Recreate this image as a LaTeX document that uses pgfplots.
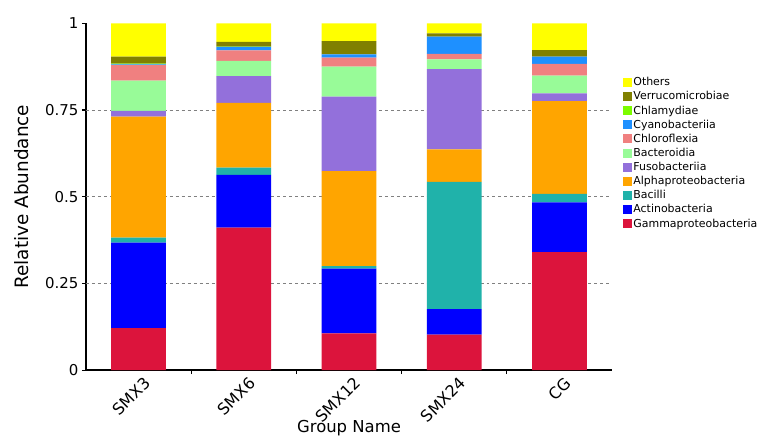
\documentclass[border=0pt]{standalone}
\usepackage{fontspec}
\setmainfont{DejaVu Sans}
\usepackage{pgfplots}
\usepackage{pgfplotstable}
\pgfplotsset{compat=1.18}

\definecolor{cGamma}{HTML}{DC143C}
\definecolor{cActino}{HTML}{0000FF}
\definecolor{cBacilli}{HTML}{20B2AA}
\definecolor{cAlpha}{HTML}{FFA500}
\definecolor{cFuso}{HTML}{9370DB}
\definecolor{cBacter}{HTML}{98FB98}
\definecolor{cChloro}{HTML}{F08080}
\definecolor{cCyano}{HTML}{1E90FF}
\definecolor{cChlam}{HTML}{7CFC00}
\definecolor{cVerruco}{HTML}{808000}
\definecolor{cOthers}{HTML}{FFFF00}

% relative abundance of the top classes per group (0 = SMX3 ... 4 = CG)
\pgfplotstableread{
grp Gamma Actino Bacilli Alpha Fuso Bacter Chloro Cyano Chlam Verruco Others
0 0.121 0.247 0.014 0.349 0.017 0.087 0.045 0.002 0.002 0.020 0.096
1 0.411 0.152 0.021 0.187 0.077 0.044 0.030 0.010 0.001 0.014 0.053
2 0.106 0.187 0.007 0.274 0.215 0.086 0.026 0.010 0.000 0.038 0.051
3 0.102 0.074 0.367 0.094 0.231 0.028 0.016 0.050 0.000 0.009 0.029
4 0.340 0.144 0.024 0.268 0.022 0.051 0.034 0.021 0.000 0.019 0.077
}\abund

\begin{document}
\begin{tikzpicture}
\path[use as bounding box] (-86bp,-67bp) rectangle (675bp,370.1bp);
\begin{axis}[
  scale only axis,
  width=526bp, height=346.7bp,
  ybar stacked, bar width=0.52,
  xmin=-0.5, xmax=4.5, ymin=0, ymax=1,
  axis x line*=bottom, axis y line*=left,
  axis line style={line width=1.6pt, black},
  xtick={0,...,4},
  xticklabels={SMX3,SMX6,SMX12,SMX24,CG},
  major x tick style={draw=none},
  minor xtick={0.5,1.5,2.5,3.5},
  minor x tick style={black, line width=1.2pt},
  minor tick length=4bp,
  x tick label style={rotate=45, anchor=north east, xshift=5bp, yshift=-1bp,
    font=\fontsize{16}{18}\selectfont},
  ytick={0,0.25,0.5,0.75,1},
  yticklabels={0,0.25,0.5,0.75,1},
  y tick label style={font=\fontsize{15}{17}\selectfont},
  major y tick style={black, line width=1.2pt},
  major tick length=4bp,
  tick align=outside,
  extra y ticks={0.25,0.5,0.75},
  extra y tick labels={},
  extra y tick style={grid=major, major grid style={dashed, gray, line width=0.6pt}, major tick length=0pt},
  xlabel={Group Name},
  ylabel={Relative Abundance},
  xlabel style={at={(axis description cs:0.5,-0.167)}, anchor=center,
    font=\fontsize{16.5}{19}\selectfont},
  ylabel style={at={(axis description cs:-0.122,0.5)}, anchor=center,
    font=\fontsize{18.5}{21}\selectfont},
  reverse legend,
  legend cell align=left,
  legend image code/.code={\fill[#1] (0bp,-4.5bp) rectangle (9bp,4.5bp);},
  legend style={at={(rel axis cs:1.015,0.854)}, anchor=north west, draw=none, fill=none,
    font=\fontsize{11}{13}\selectfont, row sep=1.7bp,
    nodes={inner sep=1.3bp}},
]
\addplot[fill=cGamma, draw=none] table[x=grp, y=Gamma]{\abund};
\addlegendentry{Gammaproteobacteria}
\addplot[fill=cActino, draw=none] table[x=grp, y=Actino]{\abund};
\addlegendentry{Actinobacteria}
\addplot[fill=cBacilli, draw=none] table[x=grp, y=Bacilli]{\abund};
\addlegendentry{Bacilli}
\addplot[fill=cAlpha, draw=none] table[x=grp, y=Alpha]{\abund};
\addlegendentry{Alphaproteobacteria}
\addplot[fill=cFuso, draw=none] table[x=grp, y=Fuso]{\abund};
\addlegendentry{Fusobacteriia}
\addplot[fill=cBacter, draw=none] table[x=grp, y=Bacter]{\abund};
\addlegendentry{Bacteroidia}
\addplot[fill=cChloro, draw=none] table[x=grp, y=Chloro]{\abund};
\addlegendentry{Chloroflexia}
\addplot[fill=cCyano, draw=none] table[x=grp, y=Cyano]{\abund};
\addlegendentry{Cyanobacteriia}
\addplot[fill=cChlam, draw=none] table[x=grp, y=Chlam]{\abund};
\addlegendentry{Chlamydiae}
\addplot[fill=cVerruco, draw=none] table[x=grp, y=Verruco]{\abund};
\addlegendentry{Verrucomicrobiae}
\addplot[fill=cOthers, draw=none] table[x=grp, y=Others]{\abund};
\addlegendentry{Others}
\end{axis}
\end{tikzpicture}
\end{document}
